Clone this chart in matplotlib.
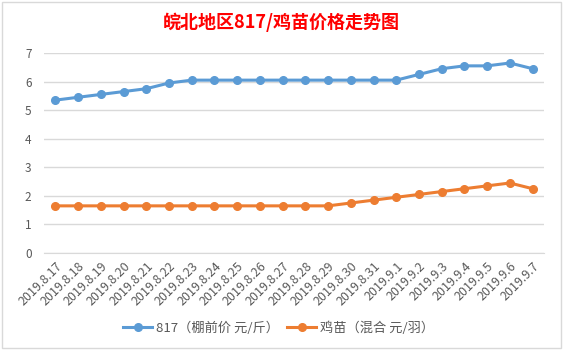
import matplotlib
matplotlib.use("Agg")
import matplotlib.pyplot as plt
from matplotlib.patches import Rectangle

plt.rcParams['font.family'] = ['Noto Sans CJK SC', 'DejaVu Sans']

dates = ["2019.8.17", "2019.8.18", "2019.8.19", "2019.8.20", "2019.8.21", "2019.8.22",
         "2019.8.23", "2019.8.24", "2019.8.25", "2019.8.26", "2019.8.27", "2019.8.28",
         "2019.8.29", "2019.8.30", "2019.8.31", "2019.9.1", "2019.9.2", "2019.9.3",
         "2019.9.4", "2019.9.5", "2019.9.6", "2019.9.7"]
price_817 = [5.35, 5.45, 5.55, 5.65, 5.75, 5.95, 6.05, 6.05, 6.05, 6.05, 6.05, 6.05,
             6.05, 6.05, 6.05, 6.05, 6.25, 6.45, 6.55, 6.55, 6.65, 6.45]
price_chick = [1.65, 1.65, 1.65, 1.65, 1.65, 1.65, 1.65, 1.65, 1.65, 1.65, 1.65, 1.65,
               1.65, 1.75, 1.85, 1.95, 2.05, 2.15, 2.25, 2.35, 2.45, 2.25]
yticks = [0, 1, 2, 3, 4, 5, 6, 7]

W, H = 563, 351
fig = plt.figure(figsize=(W / 100, H / 100), dpi=100)

# chart border like the spreadsheet chart box
fig.patches.append(Rectangle((2 / W, 1 - 348 / H), 559 / W, 346 / H, transform=fig.transFigure,
                             fill=False, edgecolor="#d9d9d9", linewidth=1.0))

ax = fig.add_axes([44 / W, 1 - 253 / H, 500 / W, 200 / H])
x = list(range(len(dates)))
ax.plot(x, price_817, color="#5B9BD5", lw=2.2, marker="o", ms=5.5, label="817（棚前价 元/斤）")
ax.plot(x, price_chick, color="#ED7D31", lw=2.2, marker="o", ms=5.5, label="鸡苗（混合 元/羽）")

ax.set_xlim(-0.5, len(dates) - 0.5)
ax.set_ylim(0, 7)
ax.set_yticks(yticks)
ax.set_xticks(x)
ax.set_xticklabels(dates, rotation=45, ha="right", va="top", rotation_mode="anchor")
ax.tick_params(axis="both", length=0, labelsize=8.5, labelcolor="#595959")
ax.tick_params(axis="x", pad=5, labelsize=9)
ax.tick_params(axis="y", pad=9)
ax.grid(axis="y", color="#d9d9d9", lw=1)
ax.set_axisbelow(True)
for s in ["top", "right", "left"]:
    ax.spines[s].set_visible(False)
ax.spines["bottom"].set_color("#d9d9d9")

fig.text(0.5, 1 - 22 / H, "皖北地区817/鸡苗价格走势图", color="red", fontsize=13,
         fontweight="bold", ha="center", va="center")

fig.legend(loc="center", bbox_to_anchor=(0.495, 1 - 328 / H), ncol=2, frameon=False,
           fontsize=9.5, labelcolor="#595959", handlelength=2.2, handletextpad=0.3,
           columnspacing=0.6)

fig.savefig("out.png", dpi=100)
